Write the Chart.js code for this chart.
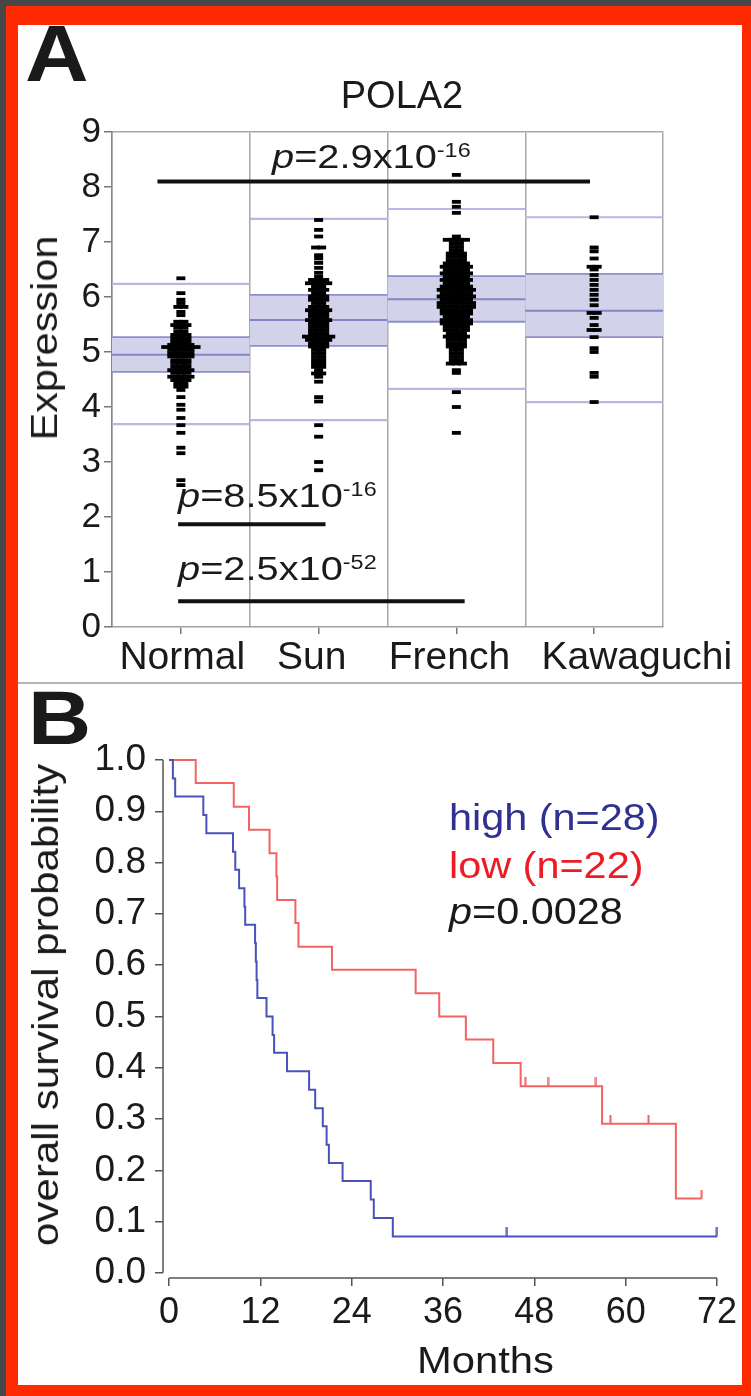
<!DOCTYPE html>
<html>
<head>
<meta charset="utf-8">
<script src="https://cdn.jsdelivr.net/npm/chart.js@4.4.1/dist/chart.umd.min.js"></script>
<style>
  html, body { margin: 0; padding: 0; }
  body { width: 751px; height: 1396px; background: #474747; position: relative; overflow: hidden;
         font-family: "Liberation Sans", Arial, sans-serif; }
  #frame { position: absolute; left: 6px; top: 6px; width: 745px; height: 1390px; background: #ff2a00; }
  #paper { position: absolute; left: 18px; top: 25px; width: 724px; height: 1360px; background: #fff; overflow: hidden; }
  #paper canvas { position: absolute; left: 0; }
  .t { position: absolute; white-space: nowrap; line-height: 1; color: #1a1a1a; }
  .pv { font-size: 34px; transform: scaleX(1.17); transform-origin: left center; }
  .pv sup { font-size: 20px; vertical-align: 11px; line-height: 0; }
  .lg { font-size: 36px; transform: scaleX(1.15); transform-origin: left center; }
  .rot { font-size: 36px; transform: translate(-50%, -50%) rotate(-90deg) scaleX(1.15); }
</style>
</head>
<body>
<div id="frame"></div>
<div id="paper">
  <canvas id="chartA" width="724" height="655" style="top:0;width:724px;height:655px"></canvas>
  <canvas id="chartB" width="724" height="690" style="top:665px;width:724px;height:690px"></canvas>

  <div class="t" style="left:7px;top:-11px;font-size:80px;font-weight:bold;transform:scaleX(1.1);transform-origin:left center">A</div>
  <div class="t" style="left:234px;width:300px;text-align:center;top:51px;font-size:38px">POLA2</div>
  <div class="t pv" style="left:254px;top:114px"><i>p</i>=2.9x10<sup>-16</sup></div>
  <div class="t pv" style="left:160px;top:453px"><i>p</i>=8.5x10<sup>-16</sup></div>
  <div class="t pv" style="left:160px;top:526px"><i>p</i>=2.5x10<sup>-52</sup></div>
  <div class="t rot" style="left:27px;top:313px">Expression</div>

  <div style="position:absolute;left:0;top:657px;width:724px;height:2px;background:#b4b4b4"></div>

  <div class="t" style="left:10px;top:655px;font-size:76px;font-weight:bold;transform:scaleX(1.15);transform-origin:left center">B</div>
  <div class="t lg" style="left:431px;top:775px;color:#2e3192">high (n=28)</div>
  <div class="t lg" style="left:431px;top:823px;color:#ed1c24">low (n=22)</div>
  <div class="t lg" style="left:431px;top:869px"><i>p</i>=0.0028</div>
  <div class="t rot" style="left:28px;top:980px;transform:translate(-50%,-50%) rotate(-90deg) scaleX(1.17)">overall survival probability</div>
  <div class="t lg" style="left:458px;top:1318px;transform:translateX(-50%) scaleX(1.16)">Months</div>
</div>

<script>
// ---------- Panel A : POLA2 expression ----------
const groups = ['Normal', 'Sun', 'French', 'Kawaguchi'];
const groupLabelPos = [0.51, 1.45, 2.45, 3.81];   // where each name is printed, in column units
const q1 = [4.64, 5.11, 5.55, 5.27];
const median = [4.95, 5.58, 5.96, 5.75];
const q3 = [5.27, 6.04, 6.38, 6.42];
const whiskerLow = [3.69, 3.76, 4.33, 4.09];
const whiskerHigh = [6.24, 7.42, 7.60, 7.45];
const yTicksA = [0, 1, 2, 3, 4, 5, 6, 7, 8, 9];

// each sample level and how many samples sit side by side at it
const normalLevels = [6.34, 6.07, 5.95, 5.89, 5.82, 5.73, 5.67, 5.55, 5.49, 5.44, 5.37, 5.31, 5.25, 5.19, 5.13,
  5.09, 5.04, 4.98, 4.92, 4.85, 4.80, 4.73, 4.67, 4.62, 4.55, 4.49, 4.43, 4.37, 4.31, 4.18, 4.04, 3.95, 3.80,
  3.67, 3.53, 3.26, 3.16, 2.67, 2.58];
const normalCounts = [1, 1, 1, 1, 2, 1, 1, 2, 3, 2, 2, 3, 3, 3, 4, 6, 4, 4, 4, 3, 3, 3, 4, 3, 4, 3, 2, 2, 1, 1,
  1, 1, 1, 1, 1, 1, 1, 1, 1];

const sunLevels = [7.40, 7.22, 7.10, 6.90, 6.76, 6.70, 6.62, 6.53, 6.44, 6.37, 6.31, 6.25, 6.19, 6.13, 6.07,
  6.01, 5.95, 5.89, 5.82, 5.76, 5.70, 5.64, 5.58, 5.52, 5.46, 5.40, 5.34, 5.28, 5.22, 5.16, 5.10, 5.04, 4.98,
  4.91, 4.85, 4.79, 4.73, 4.67, 4.61, 4.55, 4.46, 4.18, 4.10, 3.67, 3.46, 3.00, 2.85];
const sunCounts = [1, 1, 1, 2, 1, 1, 1, 1, 1, 1, 3, 4, 2, 3, 2, 3, 3, 2, 3, 4, 3, 3, 4, 3, 3, 3, 3, 5, 4, 3,
  3, 2, 2, 2, 2, 2, 2, 1, 2, 1, 1, 1, 1, 1, 1, 1, 1];

const frenchLevels = [8.22, 7.73, 7.64, 7.53, 7.10, 7.04, 6.98, 6.91, 6.85, 6.79, 6.73, 6.67, 6.61, 6.55, 6.49,
  6.43, 6.37, 6.31, 6.25, 6.19, 6.13, 6.07, 6.01, 5.95, 5.89, 5.82, 5.76, 5.70, 5.64, 5.58, 5.52, 5.46, 5.40,
  5.34, 5.28, 5.22, 5.16, 5.10, 5.04, 4.98, 4.91, 4.85, 4.79, 4.67, 4.62, 4.27, 4.00, 3.53];
const frenchCounts = [1, 1, 1, 1, 1, 4, 2, 2, 2, 3, 3, 3, 4, 5, 4, 5, 4, 5, 4, 5, 6, 5, 6, 5, 6, 6, 5, 5, 4,
  5, 5, 4, 4, 3, 4, 3, 3, 3, 2, 2, 2, 2, 3, 1, 1, 1, 1, 1];

const kawaLevels = [7.45, 6.90, 6.83, 6.70, 6.55, 6.50, 6.40, 6.31, 6.22, 6.13, 6.04, 5.95, 5.85, 5.71, 5.62,
  5.49, 5.40, 5.27, 5.07, 5.00, 4.62, 4.55, 4.09];
const kawaCounts = [1, 1, 1, 1, 2, 1, 1, 1, 1, 1, 1, 1, 1, 2, 1, 1, 2, 1, 1, 1, 1, 1, 1];

// comparison bars: from / to (in column units) and height
const pBarFrom = [0.33, 0.48, 0.48];
const pBarTo = [3.47, 1.55, 2.56];
const pBarY = [8.1, 1.87, 0.47];

// ---------- Panel B : survival ----------
const highMonths = [0, 0.5, 0.8, 4.5, 4.9, 8.4, 8.7, 9.2, 9.9, 10.0, 11.3, 11.4, 11.5, 11.6, 12.8, 13.6, 13.8,
  15.5, 18.4, 19.2, 20.2, 20.7, 21.0, 22.8, 26.5, 26.9, 29.4, 72];
const highSurv = [1.0, 0.964, 0.929, 0.893, 0.857, 0.821, 0.786, 0.75, 0.714, 0.679, 0.643, 0.607, 0.571, 0.536,
  0.5, 0.464, 0.429, 0.393, 0.357, 0.321, 0.286, 0.25, 0.214, 0.179, 0.143, 0.107, 0.071, 0.071];
const highCensorMonths = [44.4, 72];
const highCensorSurv = [0.071, 0.071];

const lowMonths = [0, 3.5, 8.5, 10.5, 13.2, 14.1, 14.2, 16.6, 17.0, 21.4, 32.4, 35.5, 39.0, 42.6, 46.2, 56.9,
  66.6, 70.0];
const lowSurv = [1.0, 0.955, 0.909, 0.864, 0.818, 0.773, 0.727, 0.682, 0.636, 0.591, 0.545, 0.5, 0.455, 0.409,
  0.364, 0.291, 0.145, 0.145];
const lowCensorMonths = [46.8, 49.8, 56.1, 58.0, 63.0, 70.0];
const lowCensorSurv = [0.364, 0.364, 0.364, 0.291, 0.291, 0.145];

const xTicksB = [0, 12, 24, 36, 48, 60, 72];
const yTicksB = [0, 0.1, 0.2, 0.3, 0.4, 0.5, 0.6, 0.7, 0.8, 0.9, 1.0];

Chart.defaults.font.family = '"Liberation Sans", Arial, sans-serif';
Chart.defaults.color = '#1a1a1a';

const DASH_STEP = 0.044; // side-by-side spacing of tied samples, column units

function strip(levels, counts, col) {
  const pts = [];
  levels.forEach((v, k) => {
    const n = counts[k];
    for (let j = 0; j < n; j++) pts.push({ x: col + 0.5 + (j - (n - 1) / 2) * DASH_STEP, y: v });
  });
  return pts;
}

function segs(values) {
  const pts = [];
  values.forEach((v, i) => { pts.push({ x: i, y: v }, { x: i + 1, y: v }, { x: i + 1, y: null }); });
  return pts;
}

function segLine(data, color, width, order) {
  return { type: 'line', data, borderColor: color, borderWidth: width, pointRadius: 0, spanGaps: false, order };
}

const dots = [];
[[normalLevels, normalCounts], [sunLevels, sunCounts], [frenchLevels, frenchCounts], [kawaLevels, kawaCounts]]
  .forEach(([l, c], i) => dots.push(...strip(l, c, i)));

const bands = groups.map((g, i) => ({
  type: 'line', order: 6, data: [{ x: i, y: q3[i] }, { x: i + 1, y: q3[i] }],
  fill: { value: q1[i] }, backgroundColor: '#d2d2ea', borderWidth: 0, pointRadius: 0
}));

const pBars = pBarY.map((y, i) => ({
  type: 'line', order: 0, data: [{ x: pBarFrom[i], y }, { x: pBarTo[i], y }],
  borderColor: '#111', borderWidth: 4, borderCapStyle: 'butt', pointRadius: 0
}));

new Chart(document.getElementById('chartA'), {
  type: 'scatter',
  data: {
    datasets: [
      ...bands,
      segLine(segs(whiskerHigh).concat(segs(whiskerLow)), '#b7b7e2', 2.2, 4),
      segLine(segs(q1).concat(segs(q3)), '#8f8fcc', 1.8, 3),
      segLine(segs(median), '#8585c6', 2, 3),
      { type: 'scatter', order: 1, data: dots, pointStyle: 'line', pointRadius: 4.5, pointBorderWidth: 3.8,
        borderColor: '#000', backgroundColor: '#000', showLine: false },
      ...pBars
    ]
  },
  options: {
    responsive: false, animation: false, devicePixelRatio: 1,
    layout: { padding: { top: 107, right: 79, left: 0, bottom: 0 } },
    plugins: { legend: { display: false }, tooltip: { enabled: false } },
    scales: {
      x: {
        type: 'linear', position: 'bottom', min: 0, max: 4, weight: 0,
        afterBuildTicks: s => { s.ticks = groups.map((g, i) => ({ value: i + 0.5 })); },
        ticks: { display: false },
        grid: { drawOnChartArea: false, drawTicks: true, tickLength: 7, color: '#777', lineWidth: 1.5 },
        border: { display: true, color: '#a0a0a0', width: 1.5 },
        afterFit: s => { s.height = 7; }
      },
      xl: {
        type: 'linear', axis: 'x', position: 'bottom', min: 0, max: 4, weight: 1,
        afterBuildTicks: s => { s.ticks = groupLabelPos.map(v => ({ value: v })); },
        ticks: { font: { size: 39 }, padding: 1, color: '#1a1a1a', maxRotation: 0, autoSkip: false,
          callback: (v, i) => groups[i] },
        grid: { display: false, drawTicks: false },
        border: { display: false },
        afterFit: s => { s.height = 46; }
      },
      xs: {
        type: 'linear', axis: 'x', position: 'top', min: 0, max: 4,
        afterBuildTicks: s => { s.ticks = [0, 1, 2, 3, 4].map(v => ({ value: v })); },
        ticks: { display: false },
        grid: { drawTicks: false, color: '#a8a8a8', lineWidth: 1.5 },
        border: { display: true, color: '#a8a8a8', width: 1.5 },
        afterFit: s => { s.height = 0; }
      },
      y: {
        min: 0, max: 9,
        afterBuildTicks: s => { s.ticks = yTicksA.map(v => ({ value: v })); },
        ticks: { font: { size: 35 }, padding: 3, color: '#1a1a1a' },
        grid: { drawOnChartArea: false, tickLength: 8, color: '#777', lineWidth: 1.5 },
        border: { display: true, color: '#888', width: 1.5 },
        afterFit: s => { s.width = 94; }
      }
    }
  }
});

// ---------- draw panel B ----------
function tickMark(color) {
  const c = document.createElement('canvas');
  c.width = 3; c.height = 18;
  const g = c.getContext('2d');
  g.fillStyle = color;
  g.fillRect(0.5, 0, 2, 9);
  return c;
}

const detachedAxes = {
  id: 'detachedAxes',
  afterDraw(chart) {
    const { ctx, chartArea, scales: { x, y } } = chart;
    ctx.save();
    ctx.strokeStyle = '#555';
    ctx.lineWidth = 1.5;
    ctx.beginPath();
    ctx.moveTo(chartArea.left, y.getPixelForValue(yTicksB[0]));
    ctx.lineTo(chartArea.left, y.getPixelForValue(yTicksB[yTicksB.length - 1]));
    ctx.moveTo(x.getPixelForValue(xTicksB[0]), chartArea.bottom);
    ctx.lineTo(x.getPixelForValue(xTicksB[xTicksB.length - 1]), chartArea.bottom);
    ctx.stroke();
    ctx.restore();
  }
};

const blue = '#4752ba';
const red = '#f26363';

new Chart(document.getElementById('chartB'), {
  type: 'line',
  data: {
    datasets: [
      { label: 'high', data: highMonths.map((m, i) => ({ x: m, y: highSurv[i] })), stepped: true,
        borderColor: blue, borderWidth: 2, pointRadius: 0, clip: false },
      { label: 'low', data: lowMonths.map((m, i) => ({ x: m, y: lowSurv[i] })), stepped: true,
        borderColor: red, borderWidth: 2, pointRadius: 0, clip: false },
      { type: 'scatter', data: highCensorMonths.map((m, i) => ({ x: m, y: highCensorSurv[i] })),
        pointStyle: tickMark(blue), pointRadius: 5, clip: false },
      { type: 'scatter', data: lowCensorMonths.map((m, i) => ({ x: m, y: lowCensorSurv[i] })),
        pointStyle: tickMark(red), pointRadius: 5, clip: false }
    ]
  },
  options: {
    responsive: false, animation: false, devicePixelRatio: 1,
    layout: { padding: { top: 70, right: 25, left: 0, bottom: 0 } },
    plugins: { legend: { display: false }, tooltip: { enabled: false } },
    scales: {
      x: {
        type: 'linear', min: -0.8, max: 72,
        afterBuildTicks: s => { s.ticks = xTicksB.map(v => ({ value: v })); },
        ticks: { font: { size: 36 }, padding: 5, color: '#1a1a1a' },
        grid: { drawOnChartArea: false, tickLength: 8, color: '#555', lineWidth: 1.5 },
        border: { display: false },
        afterFit: s => { s.height = 102; }
      },
      y: {
        type: 'linear', min: -0.01, max: 1.0,
        afterBuildTicks: s => { s.ticks = yTicksB.map(v => ({ value: v })); },
        ticks: { font: { size: 37 }, padding: 9, color: '#1a1a1a', callback: v => v.toFixed(1) },
        grid: { drawOnChartArea: false, tickLength: 8, color: '#555', lineWidth: 1.5 },
        border: { display: false },
        afterFit: s => { s.width = 145; }
      }
    }
  },
  plugins: [detachedAxes]
});
</script>
</body>
</html>
